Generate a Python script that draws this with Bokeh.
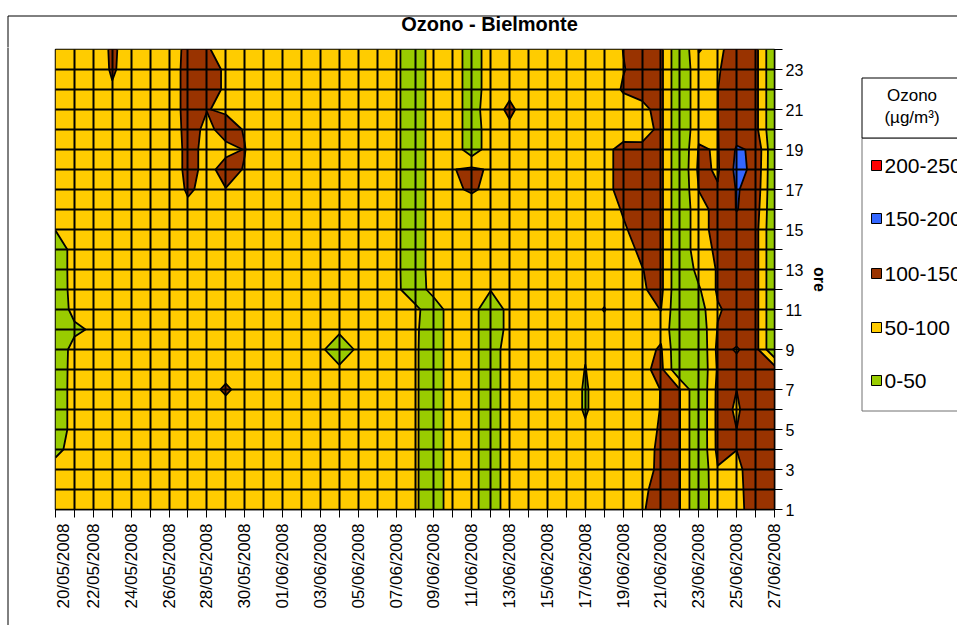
import numpy as np
from math import pi
from bokeh.plotting import figure
from bokeh.models import Range1d, FixedTicker
from bokeh.layouts import column, row
from bokeh.core.properties import value
from bokeh.embed import file_html
from bokeh.resources import INLINE

# ---------------- data ----------------
dates = ["20/05/2008", "21/05/2008", "22/05/2008", "23/05/2008", "24/05/2008", "25/05/2008",
         "26/05/2008", "27/05/2008", "28/05/2008", "29/05/2008", "30/05/2008", "31/05/2008",
         "01/06/2008", "02/06/2008", "03/06/2008", "04/06/2008", "05/06/2008", "06/06/2008",
         "07/06/2008", "08/06/2008", "09/06/2008", "10/06/2008", "11/06/2008", "12/06/2008",
         "13/06/2008", "14/06/2008", "15/06/2008", "16/06/2008", "17/06/2008", "18/06/2008",
         "19/06/2008", "20/06/2008", "21/06/2008", "22/06/2008", "23/06/2008", "24/06/2008",
         "25/06/2008", "26/06/2008", "27/06/2008"]
hours = list(range(1, 25))

# ozone (ug/m3), one list per day, hours 1..24
d20_05 = [80, 78, 72, 35, 15, 15, 15, 15, 15, 15, 15, 15, 15, 15, 52, 70, 75, 76, 78, 80, 80, 78, 76, 75]
d21_05 = [78, 76, 74, 71, 71, 71, 71, 70, 68, 40, 65, 70, 71, 71, 72, 74, 76, 78, 80, 82, 82, 80, 78, 76]
d22_05 = [76, 74, 72, 72, 72, 73, 74, 74, 70, 57, 70, 74, 75, 76, 78, 80, 80, 82, 82, 84, 84, 84, 85, 85]
d23_05 = [75, 74, 73, 73, 74, 75, 76, 77, 78, 78, 79, 80, 80, 81, 82, 83, 84, 85, 86, 88, 90, 97.5, 103, 104]
d24_05 = [74, 73, 72, 72, 73, 74, 75, 76, 76, 77, 78, 78, 79, 80, 80, 81, 82, 83, 84, 85, 86, 86, 89, 89]
d25_05 = [75, 74, 73, 73, 74, 75, 76, 77, 78, 78, 79, 80, 80, 81, 82, 82, 83, 83, 82, 80, 78, 76, 75, 74]
d26_05 = [76, 75, 74, 74, 75, 76, 77, 78, 78, 79, 80, 80, 81, 82, 82, 80, 72, 72, 72, 72, 72, 72, 72, 72]
d27_05 = [78, 77, 76, 76, 77, 78, 80, 82, 83, 84, 85, 85, 86, 86, 80, 90, 106, 112, 112, 115, 118, 118, 118, 115]
d28_05 = [79, 78, 77, 77, 78, 80, 88, 83, 84, 84, 85, 85, 86, 86, 84, 82, 88, 90, 90, 92, 101, 115, 115, 103]
d29_05 = [78, 77, 76, 76, 78, 88, 105, 88, 82, 82, 83, 84, 84, 85, 85, 88, 99, 112, 92, 112, 96, 95, 95, 88]
d30_05 = [78, 77, 76, 76, 78, 80, 88, 82, 82, 82, 82, 83, 83, 84, 84, 84, 85, 98, 101, 98, 85, 82, 80, 78]
d31_05 = [76, 75, 74, 74, 75, 76, 77, 78, 79, 80, 80, 81, 81, 82, 82, 82, 81, 80, 80, 79, 78, 77, 76, 75]
d01_06 = [74, 73, 72, 72, 73, 74, 75, 76, 77, 78, 78, 79, 79, 80, 80, 80, 79, 78, 78, 77, 76, 75, 74, 73]
d02_06 = [72, 71, 70, 70, 71, 72, 73, 74, 75, 76, 76, 77, 77, 78, 78, 78, 77, 76, 76, 75, 74, 73, 72, 71]
d03_06 = [70, 69, 68, 68, 69, 70, 70, 70, 65, 72, 74, 75, 75, 76, 76, 76, 75, 74, 74, 73, 72, 71, 70, 69]
d04_06 = [70, 69, 68, 68, 69, 70, 70, 65, 0, 65, 73, 74, 75, 75, 76, 76, 75, 74, 74, 73, 72, 71, 70, 69]
d05_06 = [70, 69, 68, 68, 69, 70, 70, 70, 65, 72, 74, 75, 75, 76, 76, 76, 75, 74, 74, 73, 72, 71, 70, 69]
d06_06 = [70, 69, 68, 68, 69, 70, 71, 72, 72, 73, 73, 72, 70, 68, 66, 65, 64, 63, 63, 62, 62, 62, 61, 61]
d07_06 = [70, 69, 68, 68, 68, 68, 68, 68, 67, 66, 65, 60, 59, 59, 59, 59, 59, 59, 59, 59, 59, 59, 59, 59]
d08_06 = [57, 57, 57, 57, 57, 57, 57, 57, 57, 58, 62, 20, 20, 20, 20, 20, 20, 20, 20, 20, 20, 20, 20, 20]
d09_06 = [20, 20, 20, 20, 20, 20, 20, 20, 20, 20, 20, 70, 74, 74, 74, 74, 74, 74, 74, 74, 74, 74, 74, 74]
d10_06 = [79, 79, 79, 79, 79, 79, 79, 79, 79, 79, 79, 80, 80, 80, 82, 86, 96, 98, 81, 81, 81, 81, 81, 81]
d11_06 = [67, 67, 67, 67, 67, 67, 67, 67, 67, 67, 67, 80, 100.5, 82, 80, 88, 103, 110, 20, 20, 20, 20, 20, 20]
d12_06 = [20, 20, 20, 20, 20, 20, 20, 20, 20, 20, 20, 52, 80, 80, 80, 80, 94, 94, 78, 78, 88, 78, 78, 78]
d13_06 = [78, 78, 78, 78, 78, 78, 78, 78, 78, 64, 64, 70, 76, 76, 76, 76, 76, 76, 76, 95, 105, 94, 76, 76]
d14_06 = [72, 72, 72, 73, 73, 74, 74, 75, 75, 76, 76, 77, 77, 78, 78, 79, 79, 80, 80, 80, 88, 80, 79, 78]
d15_06 = [72, 72, 72, 72, 73, 73, 74, 74, 75, 75, 76, 76, 77, 77, 78, 78, 79, 79, 80, 80, 80, 80, 79, 78]
d16_06 = [72, 72, 72, 72, 72, 70, 70, 72, 74, 75, 76, 76, 77, 77, 78, 78, 79, 79, 80, 80, 80, 80, 79, 78]
d17_06 = [72, 72, 72, 72, 55, 46, 46, 49, 53, 68, 72, 75, 76, 77, 78, 78, 79, 79, 80, 80, 80, 80, 79, 78]
d18_06 = [75, 75, 75, 75, 70, 70, 70, 72, 72, 64, 48, 64, 75, 78, 82, 88, 89, 89, 89, 85, 82, 82, 80, 80]
d19_06 = [78, 78, 78, 78, 78, 78, 78, 78, 78, 80, 80, 80, 80, 90, 97, 102, 112, 112, 112, 80, 85, 103, 98.5, 100.5]
d20_06 = [96, 92, 83, 84.5, 84, 80, 80, 90, 85, 80, 85, 96, 99, 105.4, 110, 112, 112, 112, 112, 79.5, 91, 112, 111, 115]
d21_06 = [118, 115, 110, 108, 104, 101.5, 101, 112, 105, 88, 101, 112, 112, 112, 112, 112, 112, 112, 112, 112, 112, 112, 112, 112]
d22_06 = [101, 101, 101, 101, 101, 101, 101, 0, 0, 0, 0, 0, 0, 0, 0, 0, 0, 0, 0, 0, 0, 0, 0, 0]
d23_06 = [0, 0, 0, 0, 0, 0, 0, 0, 0, 11, 26, 44, 68, 89, 89, 89, 101, 110, 104, 89, 89, 89, 89, 102]
d24_06 = [94, 94, 97, 113, 114, 114, 113, 106, 112, 103, 95, 107, 104, 104.5, 110, 110, 103, 95, 97, 99, 99.6, 99.5, 95.6, 88]
d25_06 = [88, 90, 92, 100.3, 100.1, 96, 100.2, 112, 97, 117, 117, 120, 120, 120, 130, 152, 153, 162, 155, 130, 125, 125, 125, 125]
d26_06 = [118, 118, 118, 118, 118, 118, 118, 118, 117, 117, 117, 117, 117, 117, 117, 125, 134, 140, 144, 115, 115, 115, 115, 115]
d27_06 = [120, 122, 122, 124, 124, 125, 125, 125, 0, 0, 0, 0, 0, 0, 0, 0, 0, 0, 0, 0, 0, 0, 0, 0]

days = [d20_05, d21_05, d22_05, d23_05, d24_05, d25_05, d26_05, d27_05, d28_05, d29_05, d30_05,
        d31_05, d01_06, d02_06, d03_06, d04_06, d05_06, d06_06, d07_06, d08_06, d09_06, d10_06,
        d11_06, d12_06, d13_06, d14_06, d15_06, d16_06, d17_06, d18_06, d19_06, d20_06, d21_06,
        d22_06, d23_06, d24_06, d25_06, d26_06, d27_06]

levels = [-1, 50, 100, 150, 200, 250]
classes = ["0-50", "50-100", "100-150", "150-200", "200-250"]
colors = ["#99CC00", "#FFCC00", "#993300", "#3366FF", "#FF0000"]
title_text = "Ozono - Bielmonte"
legend_title = ["Ozono", "(µg/m³)"]

z = np.array(days, dtype=float).T  # (hours, days)
xday = list(range(len(dates)))

FONT = "Liberation Sans"
W, H = 957, 625
TOP_H = 47          # height of the title strip
LEFT_W = 53         # width of the left border strip
LEG_X = 850         # where the legend strip starts
FR_TOP, FR_BOT = 49, 509   # plot frame (page pixels)


def no_align(f):
    try:
        f.frame_align = False
    except Exception:
        pass


def blank(width, height, x0, x1, y0, y1, b_top=0, b_bot=0):
    """helper figure (page-pixel coordinates) with no axes"""
    f = figure(width=width, height=height, x_range=Range1d(x0, x1), y_range=Range1d(y1, y0),
               x_axis_location=None, y_axis_location=None, output_backend="svg",
               toolbar_location=None, min_border=0)
    f.min_border_left = 0
    f.min_border_right = 0
    f.min_border_top = b_top
    f.min_border_bottom = b_bot
    f.outline_line_color = None
    f.grid.visible = False
    f.background_fill_color = "white"
    f.border_fill_color = "white"
    return f


# ---------- top strip: chart border + title ----------
p_top = blank(W, TOP_H, 0, W, 0, TOP_H)
no_align(p_top)
p_top.segment(x0=[7.5, 7.5], y0=[15.5, 15.5], x1=[W + 5, 7.5], y1=[15.5, TOP_H + 1],
              line_color="black", line_width=1)
p_top.text(x=[489], y=[23], text=[title_text], text_align="center", text_baseline="middle",
           text_font=value(FONT), text_font_size="20px", text_font_style="bold",
           text_color="black")

# ---------- left strip: chart border ----------
p_left = blank(LEFT_W, H - TOP_H, 0, LEFT_W, TOP_H, H)
no_align(p_left)
p_left.segment(x0=[7.5], y0=[TOP_H - 1], x1=[7.5], y1=[H + 5], line_color="black", line_width=1)

# ---------- main contour chart ----------
p = figure(width=LEG_X - LEFT_W, height=H - TOP_H, x_range=Range1d(0, 38), y_range=Range1d(1, 24),
           y_axis_location="right", output_backend="svg", toolbar_location=None,
           min_border_left=2, min_border_right=LEG_X - LEFT_W - 2 - 719,
           min_border_top=FR_TOP - TOP_H, min_border_bottom=H - FR_BOT)
no_align(p)
p.background_fill_color = "white"
p.border_fill_color = "white"
p.outline_line_color = "black"
p.outline_line_width = 1.5

p.contour(x=xday, y=hours, z=z, levels=levels, fill_color=colors,
          line_color="black", line_width=1.8)

xt = FixedTicker(ticks=xday, minor_ticks=[])
yt = FixedTicker(ticks=hours, minor_ticks=[])
p.xaxis.ticker = xt
p.yaxis.ticker = yt
p.xgrid.ticker = xt
p.ygrid.ticker = yt
p.xaxis.major_label_overrides = {i: (dates[i] if i % 2 == 0 else "") for i in xday}
p.yaxis.major_label_overrides = {h: (str(h) if h % 2 == 1 else "") for h in hours}
p.xaxis.major_label_orientation = pi / 2
for ax in (p.xaxis, p.yaxis):
    ax.major_tick_out = 8
    ax.major_tick_in = 0
    ax.minor_tick_out = 0
    ax.minor_tick_in = 0
    ax.axis_line_color = "black"
    ax.axis_line_width = 1.5
    ax.major_tick_line_color = "black"
    ax.major_label_text_font = FONT
    ax.major_label_text_color = "black"
p.xaxis.major_label_text_font_size = "17px"
p.yaxis.major_label_text_font_size = "16px"
p.xaxis.major_label_standoff = 6
p.yaxis.major_label_standoff = 3
p.yaxis.axis_label = "ore"
p.yaxis.axis_label_text_font = FONT
p.yaxis.axis_label_text_font_size = "16px"
p.yaxis.axis_label_text_font_style = "bold"
p.yaxis.axis_label_text_color = "black"
p.yaxis.axis_label_standoff = 5

for g in (p.xgrid, p.ygrid):
    g.grid_line_color = "black"
    g.grid_line_width = 2
    g.grid_line_alpha = 1.0
    g.level = "overlay"

# ---------- legend strip (frame aligned with the plot frame) ----------
p_leg = blank(W - LEG_X, H - TOP_H, LEG_X, W, FR_TOP, FR_BOT,
              b_top=FR_TOP - TOP_H, b_bot=H - FR_BOT)
no_align(p_leg)
p_leg.quad(left=[861.5], right=[W + 5], top=[137.5], bottom=[410.5], fill_color="white",
           line_color="#707070", line_width=1)
p_leg.quad(left=[861.5], right=[W + 5], top=[77.5], bottom=[137.5], fill_color="white",
           line_color="black", line_width=1)
p_leg.text(x=[911.5, 911.5], y=[95, 117], text=legend_title, text_align="center",
           text_baseline="middle", text_font=value(FONT), text_font_size="17px",
           text_color="black")
item_y = [165, 218, 273, 327, 380]
order = list(range(len(classes)))[::-1]
p_leg.rect(x=[876] * len(order), y=item_y, width=10, height=10,
           fill_color=[colors[i] for i in order], line_color="black", line_width=1)
p_leg.text(x=[884] * len(order), y=item_y, text=[classes[i] for i in order], text_align="left",
           text_baseline="middle", text_font=value(FONT), text_font_size="21px",
           text_color="black")

layout = column(p_top, row(p_left, p, p_leg))
open("out.html", "w").write(file_html(layout, INLINE))
